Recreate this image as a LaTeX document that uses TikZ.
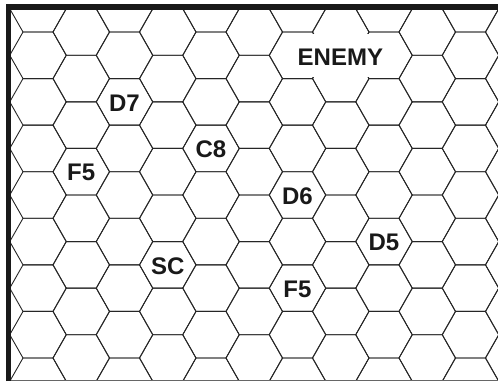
\documentclass[tikz,border=0pt]{standalone}
\usepackage{fontspec}
\setmainfont{Liberation Sans}
\begin{document}
\begin{tikzpicture}[x=1pt,y=-1pt,
  hexline/.style={draw=black!85,line width=0.9pt,line join=miter},
  hexlabel/.style={font=\fontsize{24}{28}\selectfont\bfseries,text=black!90,inner sep=0pt},
  frameline/.style={draw=black!90,line width=6pt},
  bottomline/.style={draw=black!60,line width=0.9pt}]
\useasboundingbox (0,0) rectangle (498,381);
\fill[white] (0,0) rectangle (498,381);
\begin{scope}
\clip (11,10) rectangle (498,380);
\foreach \k in {0,...,11}{
  \pgfmathsetmacro\cx{38+43.25*\k}
  \pgfmathsetmacro\off{mod(\k,2)*23.285}
  \foreach \j in {-1,...,8}{
    \pgfmathsetmacro\cy{8.72+\off+46.57*\j}
    \draw[hexline] (\cx-28.25,\cy) -- (\cx-15,\cy-23.285) -- (\cx+15,\cy-23.285)
      -- (\cx+28.25,\cy) -- (\cx+15,\cy+23.285) -- (\cx-15,\cy+23.285) -- cycle;
  }
}
\end{scope}
% white patch behind ENEMY
\fill[white] (301,34) rectangle (380,76.5);
\node[hexlabel] (enemy) at (340.4,57.5) {ENEMY};
\node[hexlabel] (d7) at (124.5,102.9) {D7};
\node[hexlabel] (c8) at (211,149.4) {C8};
\node[hexlabel] (f5a) at (81.25,172.7) {F5};
\node[hexlabel] (d6) at (297.5,196) {D6};
\node[hexlabel] (d5) at (384,242.6) {D5};
\node[hexlabel] (sc) at (167.75,265.9) {SC};
\node[hexlabel] (f5b) at (297.5,289.1) {F5};
% frame
\draw[bottomline] (11,380) -- (498,380);
\draw[draw=black!90,line width=5pt] (8.5,381) -- (8.5,4);
\draw[frameline] (6,7) -- (498,7);
\end{tikzpicture}
\end{document}
